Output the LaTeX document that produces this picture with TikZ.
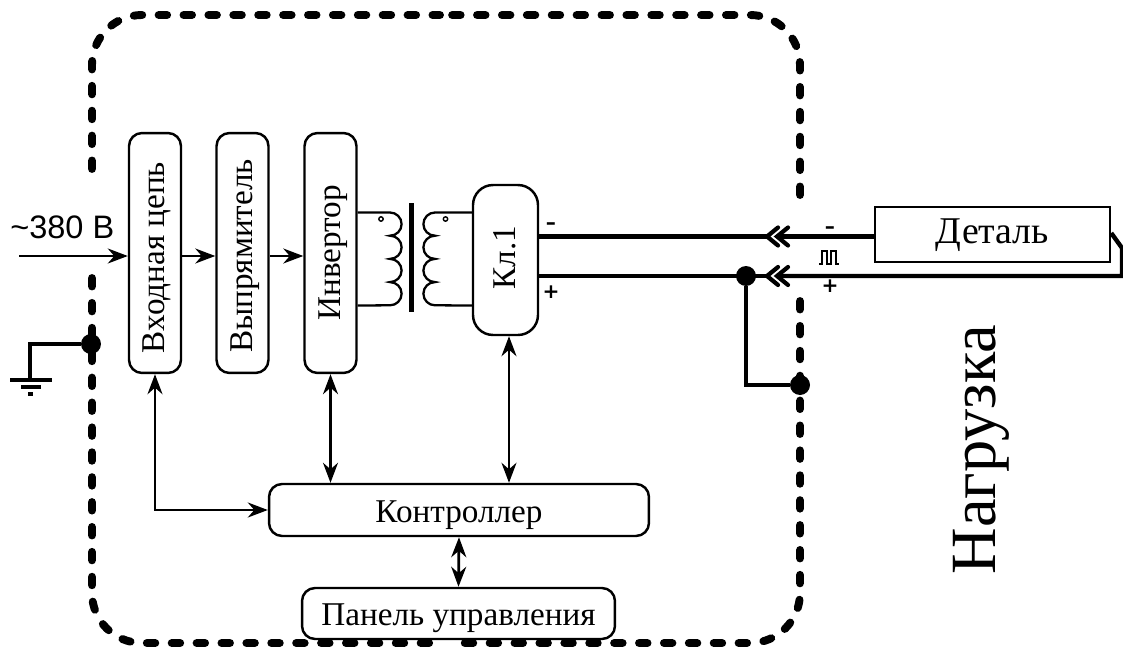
\documentclass[tikz,border=0pt]{standalone}
\usepackage{fontspec}
\usepackage{graphicx}
\setmainfont{Liberation Serif}
\newfontfamily\labelfont{Liberation Sans}
\newfontfamily\signfont{DejaVu Sans}
\usetikzlibrary{calc,arrows.meta}
\newcommand{\uptext}[1]{\rotatebox{90}{\rule[-0.2cm]{0pt}{0.8cm}#1}}
\tikzset{
  block/.style={draw,line width=1.4pt,rounded corners=0.26cm,inner sep=0pt,font=\fontsize{18.9}{22}\selectfont},
  wide block/.style={block,text height=0.6cm,text depth=0.12cm},
  wire/.style={line width=2.5pt},
  thin wire/.style={line width=1.3pt},
  fence/.style={line width=4.5pt,line cap=round,dash pattern=on 0.17cm off 0.328cm,rounded corners=1cm},
  plug/.style={line width=2.4pt,line cap=round},
  dot/.style={circle,fill=black,inner sep=0pt,minimum size=0.4cm},
  sign/.style={inner sep=0pt,font=\signfont\bfseries\fontsize{11.5}{13}\selectfont},
}
\begin{document}
\begin{tikzpicture}[x=0.02cm,y=-0.02cm,>={Stealth[length=0.4cm,width=0.3cm]}]
   \useasboundingbox (0,0) rectangle (1123,649);

   % Корпус
   \draw[fence] (92,169) -- (92,15) -- (440,15);
   \draw[fence] (800,195) -- (800,15) -- (450,15);
   \draw[fence] (92,278) -- (92,643) -- (445,643);
   \draw[fence] (800,301) -- (800,643) -- (455,643);

   % Блоки
   \node[block,minimum width=1.04cm,minimum height=4.8cm] (vhod) at (155,253) {\uptext{Входная цепь\hspace{0.18cm}}};
   \node[block,minimum width=1.04cm,minimum height=4.8cm] (vypr) at (242.5,253) {\uptext{Выпрямитель\hspace{0.12cm}}};
   \node[block,minimum width=1.04cm,minimum height=4.8cm] (inv) at (330.5,253) {\uptext{Инвертор}};
   \node[block,minimum width=1.3cm,minimum height=3cm,rounded corners=0.4cm] (kl) at (505.5,260) {\uptext{\hspace{0.1cm}Кл.1}};
   \node[wide block,minimum width=7.6cm,minimum height=1.04cm] (contr) at (459,510) {Контроллер\hspace{0.1cm}};
   \node[wide block,minimum width=6.26cm,minimum height=1.02cm] (panel) at (458.5,613.5) {Панель управления};
   \node[block,rounded corners=0pt,minimum width=4.7cm,minimum height=1.1cm,text height=0.5cm,text depth=0.16cm,font=\fontsize{21.5}{24}\selectfont] (det) at (992.5,234.5) {Деталь};

   % Вход
   \coordinate (vin) at (19,256);
   \node[anchor=base west,inner sep=0pt,font=\labelfont\fontsize{18.5}{20}\selectfont] (volt) at (10,238) {\char"007E 380 В};
   \draw[->,thin wire] (vin) -- (vin -| vhod.west);
   \draw[->,thin wire] ([yshift=-0.06cm]vhod.east) -- ([yshift=-0.06cm]vypr.west);
   \draw[->,thin wire] ([yshift=-0.06cm]vypr.east) -- ([yshift=-0.06cm]inv.west);

   % Трансформатор
   \draw[line width=1.3pt] (inv.east |- 0,212.5) -- (390,212.5)
      arc[start angle=-90,end angle=90,radius=11.6] arc[start angle=-90,end angle=90,radius=11.6]
      arc[start angle=-90,end angle=90,radius=11.6] arc[start angle=-90,end angle=90,radius=11.6]
      -- (inv.east |- 0,305.5);
   \draw[line width=1.3pt] (kl.west |- 0,212.5) -- (435,212.5)
      arc[start angle=270,end angle=90,radius=11.6] arc[start angle=270,end angle=90,radius=11.6]
      arc[start angle=270,end angle=90,radius=11.6] arc[start angle=270,end angle=90,radius=11.6]
      -- (kl.west |- 0,305.5);
   \draw[line width=2.6pt] (411.5,203) -- (411.5,312);
   \draw[line width=0.8pt] (381,219) circle[radius=2.2];
   \draw[line width=0.8pt] (445.5,219) circle[radius=2.2];

   % Связи с контроллером
   \draw[<->,thin wire] (vhod.south) |- (contr.west);
   \draw[<->,thin wire] (inv.south) -- (inv.south |- contr.north);
   \draw[<->,thin wire] ([xshift=0.07cm]kl.south) -- ([xshift=0.07cm]kl.south |- contr.north);
   \draw[<->,line width=1.6pt] (contr.south) -- (panel.north);

   % Выход
   \coordinate (pA) at (767,236.5);
   \coordinate (pB) at (777,236.5);
   \coordinate (qA) at (767,276);
   \coordinate (qB) at (777,276);
   \draw[wire] (kl.east |- pA) -- (pA);
   \draw[wire] (pB) -- (pB -| det.west);
   \draw[wire] (kl.east |- qA) -- (qA);
   \draw[wire] (qB) -- (1122,276) -- (1122,248) -- (det.east |- 0,233);
   \foreach \p in {pA,pB,qA,qB}
      \draw[plug] ($(\p)+(11,-9)$) -- (\p) -- ($(\p)+(11,9)$);

   \node[sign] (mA) at (551,226) {–};
   \node[sign] (pA1) at (551,292) {+};
   \node[sign] (mB) at (830,230) {–};
   \node[sign] (pB1) at (830,286) {+};
   \draw[line width=1.1pt] (819,264) -- (822,264) -- (822,251) -- (827,251) -- (827,264) -- (831,264) -- (831,251) -- (836,251) -- (836,264) -- (839,264);

   \node[dot] (jA) at (746,276) {};
   \node[dot] (jB) at (800,385) {};
   \node[dot] (jC) at (91,344) {};
   \draw[wire] (jA) |- (jB);

   % Заземление
   \coordinate (gnd) at (30,380);
   \draw[wire] (jC) -| (gnd);
   \draw[wire] (10,380) -- (52,380);
   \draw[wire] (21,387) -- (41,387);
   \draw[wire] (28,394) -- (33,394);

   \node[inner sep=0pt,font=\fontsize{36.7}{40}\selectfont] (load) at (981,449.5) {\rotatebox{90}{Нагрузка}};
\end{tikzpicture}
\end{document}
